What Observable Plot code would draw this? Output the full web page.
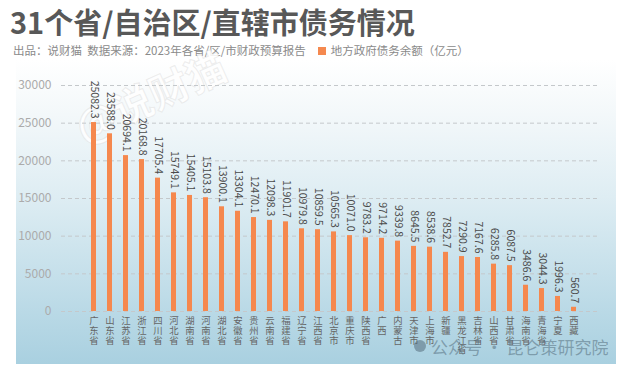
<!DOCTYPE html>
<html><head><meta charset="utf-8">
<script src="https://cdn.jsdelivr.net/npm/d3@7"></script>
<script src="https://cdn.jsdelivr.net/npm/@observablehq/plot@0.6"></script>
<style>
body{margin:0;background:#fff;}
#wrap{position:relative;width:632px;height:372px;overflow:hidden;background:#fff;font-family:"Noto Sans CJK SC","Noto Sans",sans-serif;}
#panel{position:absolute;left:16px;top:60px;width:600px;height:304px;background:linear-gradient(180deg,#ffffff 0%,#f3f8fa 18%,#deedf3 45%,#c4dfea 72%,#a9d0e0 100%);}
#title{position:absolute;left:10px;top:2px;font-size:29px;font-weight:700;color:#585858;line-height:38px;white-space:nowrap;}
#sub{position:absolute;left:13px;top:41px;font-size:11.5px;color:#8a8a8a;line-height:18px;white-space:nowrap;}
#sub .sq{display:inline-block;width:8px;height:8px;background:#F5894F;margin:0 5px 0 12px;vertical-align:0px;}
#chart{position:absolute;left:0;top:60px;}
#wm1{position:absolute;left:150px;top:95px;font-size:40px;font-weight:700;color:rgba(255,255,255,0.9);-webkit-text-stroke:1px rgba(210,210,210,0.4);transform:translate(-50%,-50%) rotate(-24deg);white-space:nowrap;line-height:44px;}
#wm2{position:absolute;left:431px;top:336px;font-size:17px;color:rgba(85,110,125,0.55);white-space:nowrap;line-height:22px;}
#wmi{position:absolute;left:414px;top:340px;width:12px;height:12px;border-radius:6px;background:rgba(85,110,125,0.55);}
</style></head>
<body>
<div id="wrap">
  <div id="panel"></div>
  <div id="title">31个省/自治区/直辖市债务情况</div>
  <div id="sub">出品：说财猫&nbsp;&nbsp;数据来源：2023年各省/区/市财政预算报告<span class="sq"></span>地方政府债务余额（亿元）</div>
  <div id="wm1">@说财猫</div>
  <div id="chart"></div>
  <div id="wmi"></div>
  <div id="wm2">公众号 · 昆仑策研究院</div>
</div>
<script>
const provinces = ["广东省","山东省","江苏省","浙江省","四川省","河北省","湖南省","河南省","湖北省","安徽省","贵州省","云南省","福建省","辽宁省","江西省","北京市","重庆市","陕西省","广西","内蒙古","天津市","上海市","新疆","黑龙江省","吉林省","山西省","甘肃省","海南省","青海省","宁夏","西藏"];
const debt = [25082.3,23588.0,20694.1,20168.8,17705.4,15749.1,15405.1,15103.8,13900.1,13304.1,12470.1,12098.3,11901.7,10979.8,10859.5,10565.3,10071.0,9783.2,9714.2,9339.8,8645.5,8538.6,7852.7,7290.9,7167.6,6285.8,6087.5,3486.6,3044.3,1996.3,560.7];
const yTicks = [0,5000,10000,15000,20000,25000,30000];

const data = provinces.map((p,i)=>({name:p, value:debt[i]}));
const chars = data.flatMap(d => [...d.name].map((c, i) => ({name: d.name, c, i})));
const font = '"Noto Sans CJK SC","Noto Sans",sans-serif';

const labelLines = [0,1,2,3].map(i =>
  Plot.text(chars.filter(d => d.i === i), {x: "name", y: () => 0, text: "c", lineAnchor: "top", dy: 6 + i * 9.7, fontSize: 9.4, fill: "#666"})
);

const chart = Plot.plot({
  width: 632,
  height: 312,
  marginTop: 25,
  marginBottom: 61,
  marginLeft: 61,
  marginRight: 33,
  style: {background: "transparent", fontFamily: font, overflow: "visible"},
  x: {type: "band", domain: provinces, range: [68, 599], paddingInner: 0.67, paddingOuter: 0.5, axis: null},
  y: {domain: [0, 30000], axis: null},
  marks: [
    Plot.ruleY(yTicks, {stroke: "#c4c8cb", strokeWidth: 1, strokeDasharray: "4,3"}),
    Plot.axisY(yTicks, {ticks: yTicks, tickSize: 0, tickPadding: 10, fontSize: 12, fill: "#ababab", tickFormat: d => String(d), label: null}),
    Plot.barY(data, {x: "name", y: "value", fill: "#F5884E"}),
    Plot.text(data, {x: "name", y: "value", text: d => d.value.toFixed(1), rotate: 90, textAnchor: "end", dy: -4, fontSize: 10.5, fill: "#4a4a4a"}),
    ...labelLines
  ]
});
document.getElementById("chart").appendChild(chart);
</script>
</body></html>
